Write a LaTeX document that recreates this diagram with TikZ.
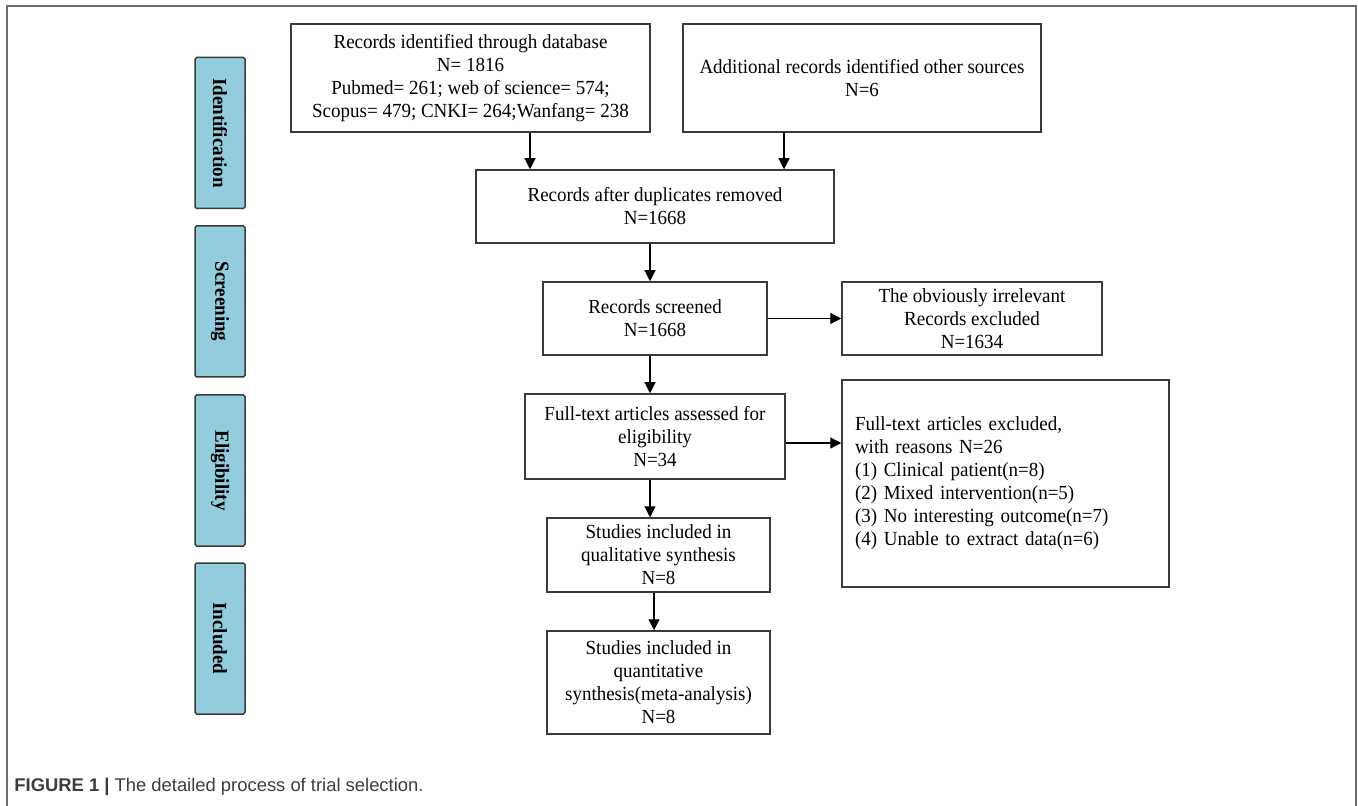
\documentclass[tikz,border=0pt]{standalone}
\usepackage{fontspec}
\setmainfont{Liberation Serif}[FakeStretch=0.95]
\newfontfamily\capfont{Liberation Sans}
\usetikzlibrary{arrows.meta}
\usetikzlibrary{calc}
\definecolor{boxline}{HTML}{3A3A3A}
\definecolor{phasefill}{HTML}{93CDDD}
\definecolor{framegray}{HTML}{6E6E6E}
\definecolor{captext}{HTML}{3C3C3C}
\tikzset{
 box/.style={draw=boxline, line width=0.75pt, align=center, inner sep=0pt,
  font=\fontsize{10}{11.5}\selectfont},
 phase/.style={draw=boxline, line width=0.75pt, fill=phasefill, rounded corners=0.8pt,
  minimum width=75.5pt, minimum height=25pt, inner sep=0pt, rotate=-90,
  font=\fontsize{10}{11.5}\selectfont\bfseries},
 arrowline/.style={black, line width=0.6pt, -{Triangle[length=5.5pt,width=5.5pt]}},
}

\begin{document}
\begin{tikzpicture}[x=0.5pt,y=-0.5pt]
\useasboundingbox (0,0) rectangle (1358,806);
\draw[framegray, line width=0.6pt] (7,806) -- (7,6) -- (1356,6) -- (1356,806);
% stages
\foreach \name/\yc in {Identification/133,Screening/301.5,Eligibility/470.5,Included/638.5}
 \node[phase] (\name) at (220,\yc) {\name};
% flow boxes
\node[box, minimum width=179.5pt, minimum height=54pt] (db) at (470.5,78)
 {Records identified through database\\N= 1816\\Pubmed= 261; web of science= 574;\\Scopus= 479; CNKI= 264;Wanfang= 238};
\node[box, minimum width=179pt, minimum height=54pt] (other) at (862,78)
 {Additional records identified other sources\\N=6};
\node[box, minimum width=179pt, minimum height=36.5pt] (dup) at (655,206.5)
 {Records after duplicates removed\\N=1668};
\node[box, minimum width=112pt, minimum height=36.5pt] (screen) at (655,318.5)
 {Records screened\\N=1668};
\node[box, minimum width=130pt, minimum height=36.5pt] (irrel) at (972,318.5)
 {The obviously irrelevant\\Records excluded\\N=1634};
\node[box, minimum width=130pt, minimum height=42.5pt] (full) at (655,436.5)
 {Full-text articles assessed for\\eligibility\\N=34};
\node[box, minimum width=163.5pt, minimum height=103.5pt, text width=150.5pt, align=left] (excl) at (1005.5,483.5)
 {Full-text articles excluded,\\with reasons N=26\\(1) Clinical patient(n=8)\\(2) Mixed intervention(n=5)\\(3) No interesting outcome(n=7)\\(4) Unable to extract data(n=6)};
\node[box, minimum width=111.5pt, minimum height=37pt] (qual) at (658.5,555)
 {Studies included in\\qualitative synthesis\\N=8};
\node[box, minimum width=111.5pt, minimum height=51.5pt] (quant) at (658.5,682.5)
 {Studies included in\\quantitative\\synthesis(meta-analysis)\\N=8};
% arrows
\coordinate (dbfoot) at ([xshift=29.75pt]db.south);
\coordinate (otherfoot) at ([xshift=-39pt]other.south);
\coordinate (fullside) at ([yshift=-3.25pt]full.east);
\draw[arrowline] (dbfoot) -- (dbfoot |- dup.north);
\draw[arrowline] (otherfoot) -- (otherfoot |- dup.north);
\draw[arrowline] ([xshift=-2.5pt]dup.south) -- ([xshift=-2.5pt]screen.north);
\draw[arrowline] (screen.east) -- (irrel.west);
\draw[arrowline] ([xshift=-2.5pt]screen.south) -- ([xshift=-2.5pt]full.north);
\draw[arrowline] (fullside) -- (fullside -| excl.west);
\draw[arrowline] ([xshift=-2.5pt]full.south) -- ([xshift=-4.25pt]qual.north);
\draw[arrowline] ([xshift=-2.25pt]qual.south) -- ([xshift=-2.25pt]quant.north);
% caption
\node[anchor=west, inner sep=0pt, text=captext, font=\capfont\fontsize{9.2}{11}\selectfont] (caption) at (14,787)
 {\textbf{FIGURE 1 |} The detailed process of trial selection.};
\end{tikzpicture}
\end{document}
